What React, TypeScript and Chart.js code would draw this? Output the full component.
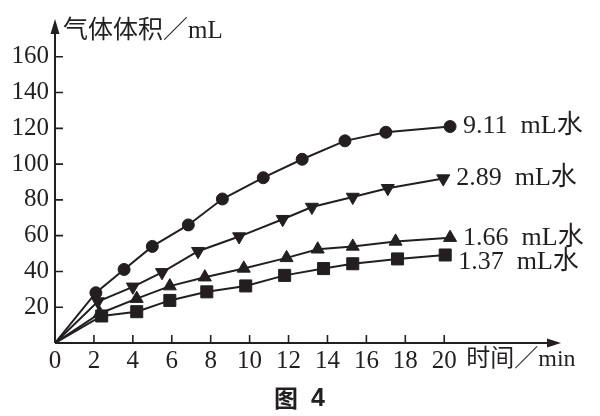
import React, { useEffect, useRef } from "react";
import { Chart, registerables } from "chart.js";

Chart.register(...registerables);

// ---- data ----
const xTickValues = [0, 2, 4, 6, 8, 10, 12, 14, 16, 18, 20];
const yTickValues = [20, 40, 60, 80, 100, 120, 140, 160];

const seriesNames = ["9.11  mL水", "2.89  mL水", "1.66  mL水", "1.37  mL水"];

const time911 = [0, 2.1, 3.55, 5.0, 6.85, 8.6, 10.7, 12.7, 14.9, 17.0, 20.3];
const vol911 = [0, 28.1, 41.1, 54.0, 66.0, 80.5, 92.4, 102.7, 113.0, 117.8, 121.0];

const time289 = [0, 2.2, 4.0, 5.5, 7.35, 9.46, 11.7, 13.2, 15.3, 17.1, 19.95];
const vol289 = [0, 23.2, 31.4, 39.5, 51.3, 59.5, 69.2, 76.0, 81.6, 86.5, 91.9];

const time166 = [0, 2.3, 4.2, 5.9, 7.7, 9.7, 11.9, 13.5, 15.3, 17.5, 20.3];
const vol166 = [0, 16.5, 24.8, 31.8, 36.8, 41.7, 47.6, 52.4, 54.0, 56.8, 58.9];

const time137 = [0, 2.4, 4.2, 5.9, 7.8, 9.8, 11.8, 13.8, 15.3, 17.6, 20.05];
const vol137 = [0, 15.1, 17.5, 23.8, 28.6, 31.9, 37.8, 41.6, 44.3, 47.0, 49.2];

const yAxisTitle = "气体体积／mL";
const xAxisTitle = "时间／min";
const captionChar = "图";
const captionNum = "4";

// ---- styles ----
const INK = "#231f20";
const SERIF = '"Liberation Serif", "Noto Sans CJK SC", serif';
const CJK = '"Noto Sans CJK SC", "Liberation Serif", serif';

const toPoints = (xs: number[], ys: number[]) => xs.map((x, i) => ({ x, y: ys[i] }));

const decorPlugin = {
  id: "decor",
  afterDraw(chart: any) {
    const { ctx, chartArea } = chart;
    const xs = chart.scales.x;
    const ys = chart.scales.y;
    const x0 = xs.getPixelForValue(0);
    const y0 = ys.getPixelForValue(0);
    ctx.save();
    ctx.strokeStyle = INK;
    ctx.fillStyle = INK;
    ctx.lineWidth = 2;
    ctx.beginPath();
    ctx.moveTo(x0, y0);
    ctx.lineTo(chartArea.right - 6, y0);
    ctx.moveTo(x0, y0);
    ctx.lineTo(x0, chartArea.top + 6);
    ctx.stroke();

    ctx.lineWidth = 1.6;
    ctx.beginPath();
    for (const v of xTickValues) {
      if (v === 0) continue;
      const px = xs.getPixelForValue(v);
      ctx.moveTo(px, y0);
      ctx.lineTo(px, y0 - 8);
    }
    for (const v of yTickValues) {
      const py = ys.getPixelForValue(v);
      ctx.moveTo(x0, py);
      ctx.lineTo(x0 + 8, py);
    }
    ctx.stroke();

    // arrows
    ctx.beginPath();
    ctx.moveTo(chartArea.right, y0);
    ctx.lineTo(chartArea.right - 14, y0 - 4.5);
    ctx.lineTo(chartArea.right - 14, y0 + 4.5);
    ctx.closePath();
    ctx.fill();
    ctx.beginPath();
    ctx.moveTo(x0, chartArea.top - 2);
    ctx.lineTo(x0 - 4.5, chartArea.top + 13);
    ctx.lineTo(x0 + 4.5, chartArea.top + 13);
    ctx.closePath();
    ctx.fill();

    // axis titles
    ctx.textBaseline = "middle";
    ctx.textAlign = "left";
    ctx.font = `25px ${SERIF}`;
    ctx.fillText(yAxisTitle, x0 + 8, chartArea.top + 10);
    ctx.font = `24px ${SERIF}`;
    ctx.fillText(xAxisTitle, xs.getPixelForValue(20) + 22, y0 + 17);

    // series labels
    ctx.font = `26px ${SERIF}`;
    const dy = [0, 0, 1, 7];
    chart.data.datasets.forEach((ds: any, i: number) => {
      const last = ds.data[ds.data.length - 1];
      const px = xs.getPixelForValue(last.x) + 13;
      const py = ys.getPixelForValue(last.y) + dy[i];
      ctx.fillText(seriesNames[i], px, py);
    });

    // caption
    ctx.font = `bold 24px ${CJK}`;
    ctx.fillText(captionChar, 274, 398);
    ctx.font = `bold 25px "Liberation Sans", sans-serif`;
    ctx.fillText(captionNum, 311, 399);
    ctx.restore();
  },
};

export default function App() {
  const ref = useRef<HTMLCanvasElement | null>(null);
  useEffect(() => {
    if (!ref.current) return;
    const mk = (label: string, xs: number[], ys: number[], style: string, r: number, rot = 0) => ({
      label,
      data: toPoints(xs, ys),
      borderColor: INK,
      backgroundColor: INK,
      borderWidth: 2,
      pointStyle: style,
      pointRotation: rot,
      pointBackgroundColor: INK,
      pointBorderColor: INK,
      pointBorderWidth: 1,
      pointRadius: (c: any) => (c.dataIndex === 0 ? 0 : r),
      tension: 0,
      showLine: true,
    });
    const chart = new Chart(ref.current, {
      type: "line",
      data: {
        datasets: [
          mk(seriesNames[0], time911, vol911, "circle", 6),
          mk(seriesNames[1], time289, vol289, "triangle", 7.5, 180),
          mk(seriesNames[2], time166, vol166, "triangle", 7.5),
          mk(seriesNames[3], time137, vol137, "rect", 8.5),
        ],
      },
      options: {
        animation: false,
        responsive: false,
        devicePixelRatio: 1,
        layout: { padding: { left: 0, top: 10, right: 39, bottom: 0 } },
        plugins: { legend: { display: false }, tooltip: { enabled: false } },
        scales: {
          x: {
            type: "linear",
            min: 0,
            max: 26,
            grid: { display: false, drawTicks: false },
            border: { display: false },
            afterBuildTicks: (s: any) => {
              s.ticks = xTickValues.map((v) => ({ value: v }));
            },
            afterFit: (s: any) => {
              s.height = 73;
            },
            ticks: {
              autoSkip: false,
              maxRotation: 0,
              padding: 3,
              color: INK,
              font: { family: SERIF, size: 25 },
            },
          },
          y: {
            type: "linear",
            min: 0,
            max: 180,
            grid: { display: false, drawTicks: false },
            border: { display: false },
            afterBuildTicks: (s: any) => {
              s.ticks = yTickValues.map((v) => ({ value: v }));
            },
            afterFit: (s: any) => {
              s.width = 55;
            },
            ticks: {
              autoSkip: false,
              padding: 6,
              color: INK,
              font: { family: SERIF, size: 25 },
            },
          },
        },
      },
      plugins: [decorPlugin],
    } as any);
    return () => chart.destroy();
  }, []);
  return (
    <div style={{ position: "absolute", left: 0, top: 0, width: 600, height: 416, background: "#fff" }}>
      <canvas ref={ref} width={600} height={416} style={{ width: 600, height: 416, display: "block" }} />
    </div>
  );
}
